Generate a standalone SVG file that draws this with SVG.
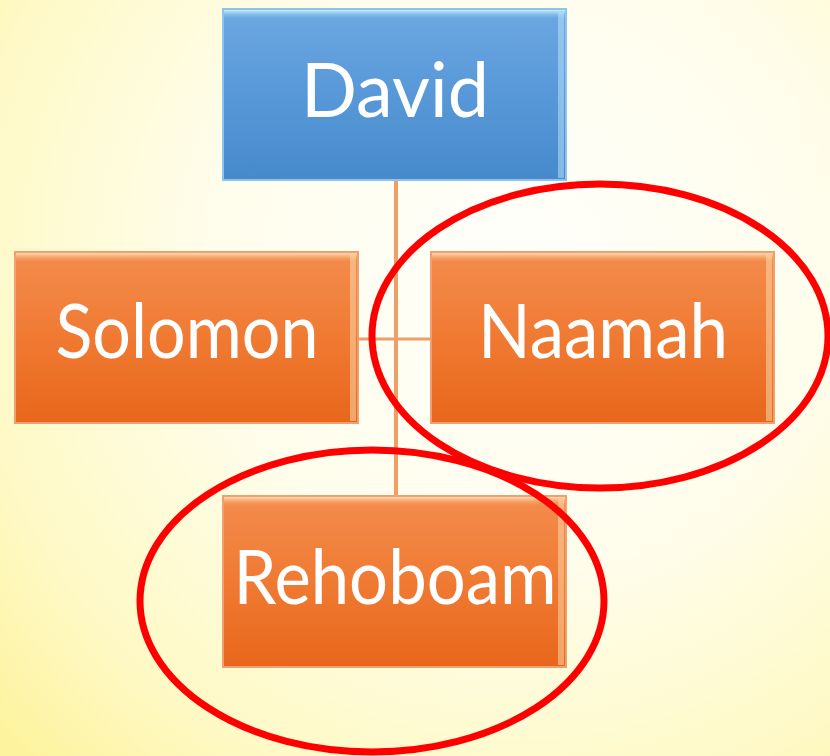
<svg xmlns="http://www.w3.org/2000/svg" width="830" height="756" viewBox="0 0 830 756">
  <defs>
    <radialGradient id="bg" cx="520" cy="260" r="700" gradientUnits="userSpaceOnUse">
      <stop offset="0" stop-color="#FFFFFB"/>
      <stop offset="0.45" stop-color="#FFFDEB"/>
      <stop offset="0.8" stop-color="#FEF9C4"/>
      <stop offset="1" stop-color="#FDF39E"/>
    </radialGradient>
    <linearGradient id="orange" x1="0" y1="0" x2="0" y2="1">
      <stop offset="0" stop-color="#F38C4E"/>
      <stop offset="0.5" stop-color="#F07A32"/>
      <stop offset="1" stop-color="#E8661B"/>
    </linearGradient>
    <linearGradient id="blue" x1="0" y1="0" x2="0" y2="1">
      <stop offset="0" stop-color="#6CA8E2"/>
      <stop offset="0.5" stop-color="#5898D8"/>
      <stop offset="1" stop-color="#468ACC"/>
    </linearGradient>
    <linearGradient id="topBevelO" x1="0" y1="0" x2="0" y2="1">
      <stop offset="0" stop-color="#FFE0B8" stop-opacity="0.95"/>
      <stop offset="1" stop-color="#F7A062" stop-opacity="0"/>
    </linearGradient>
    <linearGradient id="topBevelB" x1="0" y1="0" x2="0" y2="1">
      <stop offset="0" stop-color="#C8F0FF" stop-opacity="0.95"/>
      <stop offset="1" stop-color="#7EBBEA" stop-opacity="0"/>
    </linearGradient>
    <style>
      .box-o { fill: url(#orange); stroke: #F0A070; stroke-width: 2; }
      .box-b { fill: url(#blue); stroke: #8CC4EE; stroke-width: 2; }
      .bev-o { fill: url(#topBevelO); }
      .bev-b { fill: url(#topBevelB); }
      .side-o { fill: #FBD9A8; opacity: 0.55; }
      .side-b { fill: #B4E2FA; opacity: 0.55; }
      .label { font-family: Lato, "Open Sans", "Liberation Sans", sans-serif; font-size: 76px; fill: #FFFFFF; text-anchor: middle; }
      .conn { stroke: #EE9E66; fill: none; }
      .ring { fill: none; stroke: #FF0000; stroke-width: 7; }
    </style>
  </defs>

  <rect width="830" height="756" fill="url(#bg)"/>

  <g id="connectors">
    <line class="conn" x1="396" y1="180" x2="396" y2="495" stroke-width="4"/>
    <line class="conn" x1="358" y1="339" x2="430" y2="339" stroke-width="3"/>
  </g>

  <g id="david">
    <rect class="box-b" x="223" y="9" width="343" height="171"/>
    <rect class="bev-b" x="224" y="10" width="341" height="9"/>
    <rect class="side-b" x="558" y="12" width="6" height="166"/>
    <text class="label" x="395" y="117" textLength="188" lengthAdjust="spacingAndGlyphs">David</text>
  </g>

  <g id="solomon">
    <rect class="box-o" x="15" y="252" width="343" height="171"/>
    <rect class="bev-o" x="16" y="253" width="341" height="9"/>
    <rect class="side-o" x="350" y="255" width="6" height="166"/>
    <text class="label" x="187" y="358" textLength="263" lengthAdjust="spacingAndGlyphs">Solomon</text>
  </g>

  <g id="naamah">
    <rect class="box-o" x="431" y="252" width="343" height="171"/>
    <rect class="bev-o" x="432" y="253" width="341" height="9"/>
    <rect class="side-o" x="766" y="255" width="6" height="166"/>
    <text class="label" x="603" y="358" textLength="250" lengthAdjust="spacingAndGlyphs">Naamah</text>
  </g>

  <g id="rehoboam">
    <rect class="box-o" x="223" y="496" width="343" height="171"/>
    <rect class="bev-o" x="224" y="497" width="341" height="9"/>
    <rect class="side-o" x="558" y="499" width="6" height="166"/>
    <text class="label" x="395" y="604" textLength="323" lengthAdjust="spacingAndGlyphs">Rehoboam</text>
  </g>

  <g id="highlights">
    <ellipse class="ring" cx="600" cy="336" rx="228" ry="152"/>
    <ellipse class="ring" cx="372" cy="601" rx="232" ry="151"/>
  </g>
</svg>
